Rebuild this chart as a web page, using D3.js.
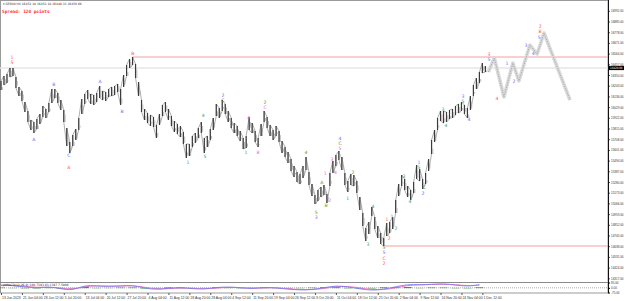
<!DOCTYPE html>
<html><head><meta charset="utf-8">
<script src="https://cdn.jsdelivr.net/npm/d3@7"></script>
<style>body{margin:0;background:#fff}svg{display:block;font-family:"DejaVu Sans",Arial,sans-serif}</style>
</head><body><svg id="c" width="625" height="301"></svg>
<script>
const highs = [16290,16340,16360,16420,16420,16330,16230,16190,16080,15990,
15900,15880,15910,15960,16040,16010,16070,16210,16210,16170,
16100,16000,15820,15680,15750,15810,15920,16110,16160,16200,
16160,16150,16170,16240,16190,16180,16210,16230,16240,16260,
16210,16350,16450,16510,16530,16460,16280,16100,16010,15970,
15950,15930,15850,15960,16050,16080,16010,15940,15890,15860,
15840,15780,15660,15660,15740,15770,15820,15880,15720,15740,
15810,15920,16060,16020,16100,16060,15990,15920,15870,15840,
15790,15720,15740,15930,15870,15790,15720,15860,15990,15930,
15850,15800,15840,15790,15690,15630,15580,15510,15440,15380,
15360,15440,15530,15380,15260,15150,15200,15230,15250,15160,
15370,15490,15550,15590,15530,15370,15290,15360,15350,15290,
15130,14970,14820,14880,15030,14930,14840,14770,14720,14870,
14880,14930,15100,15260,15350,15310,15240,15200,15280,15450,
15410,15310,15370,15510,15700,15800,15920,15990,15990,15980,
16000,16010,16040,16060,16080,16050,16020,16140,16250,16320,
16380,16470,16440];
const lows = [16200,16250,16270,16330,16340,16220,16140,16090,15980,15880,
15800,15770,15810,15860,15930,15920,15980,16070,16120,16070,
16000,15880,15640,15570,15640,15700,15800,15960,16060,16110,
16060,16050,16080,16120,16100,16090,16130,16140,16150,16180,
16050,16230,16340,16420,16450,16320,16140,15980,15900,15870,
15840,15830,15720,15850,15940,15980,15900,15840,15780,15760,
15730,15660,15520,15540,15630,15670,15720,15770,15570,15630,
15700,15800,15940,15920,15990,15960,15880,15820,15770,15740,
15690,15610,15620,15800,15770,15680,15630,15740,15880,15820,
15740,15700,15740,15680,15570,15530,15470,15390,15330,15280,
15260,15320,15400,15250,15140,15060,15090,15130,15150,15070,
15240,15370,15440,15500,15400,15250,15180,15250,15240,15170,
15000,14840,14690,14760,14940,14810,14720,14660,14640,14740,
14770,14810,14970,15140,15240,15200,15130,15100,15170,15310,
15290,15210,15260,15390,15560,15680,15800,15890,15870,15880,
15910,15920,15950,15970,15990,15960,15920,16000,16140,16210,
16270,16370,16380];
const currentPrice = 16420;
const levelB = 16530, levelBBar = 44;
const levelLow = 14640, levelLowBar = 128;

const projBars = [163,165,168.2,171.2,173.2,176.9,179.3,181.6,190.3];
const projPrices = [16380,16520,16130,16470,16290,16650,16560,16770,16100];

const priceTicks = [16992,16885,16778,16671,16564,16457,16350,16243,16136,16029,15922,15815,15708,15601,15494,15387,15280,15173,15066,14959,14852,14745,14638,14531,14424,14317];

const dateBars = [0,7,14,21,28,35,42,49,56,63,70,77,84,91,98,105,112,119,126,133,140,147,154,161];
const dateLabels = ["13 Jun 2023","21 Jun 04:00","28 Jun 12:00","5 Jul 20:00","13 Jul 04:00","20 Jul 12:00","27 Jul 20:00","4 Aug 04:00","11 Aug 12:00","18 Aug 20:00","28 Aug 04:00","4 Sep 12:00","11 Sep 20:00","19 Sep 04:00","26 Sep 12:00","3 Oct 20:00","11 Oct 04:00","18 Oct 12:00","25 Oct 20:00","2 Nov 04:00","9 Nov 12:00","16 Nov 20:00","24 Nov 04:00","1 Dec 12:00"];

const lblText  = ["1","5","A","B","C","A","A","B","B","1","4","5","2","C","1","A","B","2","C","4","5","3","1","A","B","2","3","4","4","C","5","1","2","3","4","5","5","C","2","1","2","1","2","3","4","1","5","C","2","3","4","3","5","4","3","5","4","1","2","3","4","2","B","5"];
const lblBar   = [3.7,3.7,11,17.7,22.7,22.7,33.1,40.5,44.1,62.5,67.6,68.2,74.2,74.2,81.9,82.9,86,88.3,88.3,102,105.4,105.4,108.4,107.3,108.7,109.9,110.7,111.9,113.4,113.4,113.4,116,117.7,122.7,124.4,128.1,128.1,128.1,128.1,129.1,129.8,130.8,132.1,134.8,136.8,139.8,139.8,141.5,141.1,147.8,148.8,154.5,154.5,156.5,163.2,163.2,165.9,169.2,171.6,175.6,178,180.3,180.3,180];
const lblPrice = [16525,16470,15700,16250,15545,15420,16280,15980,16560,15470,15940,15530,16145,16090,15570,15920,15570,16075,16020,15570,14975,14920,15360,15270,15040,15095,15500,15370,15715,15665,15615,15110,15370,14650,15030,14625,14570,14515,14460,14900,14710,14930,14810,15330,15080,15475,15420,15220,15165,16000,15840,16135,16080,15900,16555,16500,16110,16460,16280,16640,16560,16835,16780,16725];
const lblColor = ["r","r","b","b","b","r","b","b","r","b","g","g","b","g","g","p","p","g","p","g","g","b","p","g","g","p","p","p","b","g","p","g","g","g","g","g","b","r","r","r","r","g","g","g","g","b","g","g","b","g","g","b","g","b","r","b","r","b","b","b","b","r","r","b"];

const indBars = [0,4,8,12,16,20,24,28,32,36,40,44,48,52,56,60,64,68,72,76,80,84,88,92,96,100,104,108,112,116,120,124,128,132,136,140,144,148,152,156,160];
const indMain = [44,36,15,-7,22,-15,-44,44,29,22,29,44,-7,-29,-7,7,-15,-22,7,15,0,-15,7,0,-22,-36,-29,0,36,15,-15,-44,-22,15,58,44,58,65,44,22,51];
const indSignal = [40,40,25,5,10,0,-30,20,35,25,25,38,10,-20,-15,0,-8,-18,-5,10,5,-8,0,2,-12,-30,-32,-12,22,25,0,-30,-32,-2,40,50,52,60,52,32,40];
const indHist = [4,-4,-10,-12,12,-15,-14,24,-6,-3,4,6,-17,-9,8,7,-7,-4,12,5,-5,-7,7,-2,-10,-6,3,12,14,-10,-15,-14,10,17,18,-6,6,5,-8,-10,11];
const indTicks = [85, 0, -75];

const colors = {r:"#ff5050", b:"#6a6aff", g:"#45a045", p:"#e466e4"};

const svg = d3.select("#c");
const axisX = 608, indTop = 282, indBottom = 293;
const x = d3.scaleLinear().domain([0, 200]).range([1, 1 + 2.99*200]);
const y = d3.scaleLinear().domain([14300, 17070]).range([280, 3]);
const yi = d3.scaleLinear().domain([-75, 85]).range([indBottom - 0.5, indTop + 0.5]);
const yh = d3.scaleLinear().domain([-40, 40]).range([1.6, -1.6]);

svg.append("rect").attr("x",0.5).attr("y",0.5).attr("width",axisX-0.5).attr("height",indBottom-0.5)
  .attr("fill","none").attr("stroke","#9a9a9a").attr("stroke-width",1);
svg.append("line").attr("x1",0).attr("x2",axisX).attr("y1",indTop+0.5).attr("y2",indTop+0.5).attr("stroke","#8a8a8a");

svg.append("line").attr("x1",0).attr("x2",axisX).attr("y1",y(currentPrice)).attr("y2",y(currentPrice))
  .attr("stroke","#e6e6e6").attr("stroke-width",1.6);
svg.append("line").attr("x1",x(levelBBar)).attr("x2",axisX).attr("y1",y(levelB)).attr("y2",y(levelB))
  .attr("stroke","#f2a0a0").attr("stroke-width",1);
svg.append("line").attr("x1",x(levelLowBar)).attr("x2",axisX).attr("y1",y(levelLow)).attr("y2",y(levelLow))
  .attr("stroke","#f2a0a0").attr("stroke-width",1);

const zz = [];
highs.forEach((h,i)=>{
  if (i%2) { zz.push([x(i), y(h)]); zz.push([x(i), y(lows[i])]); }
  else { zz.push([x(i), y(lows[i])]); zz.push([x(i), y(h)]); }
});
svg.append("path").attr("d", d3.line()(zz)).attr("fill","none").attr("stroke","#8c8c8c").attr("stroke-width",0.7);
svg.append("g").selectAll("line").data(highs).join("line")
  .attr("x1",(d,i)=>x(i)).attr("x2",(d,i)=>x(i))
  .attr("y1",d=>y(d)).attr("y2",(d,i)=>y(lows[i]))
  .attr("stroke","#3c3c3c").attr("stroke-width",1.2);
svg.append("g").selectAll("line").data(highs).join("line")
  .attr("x1",(d,i)=>x(i)+1.3).attr("x2",(d,i)=>x(i)+1.3)
  .attr("y1",(d,i)=>y((d+lows[i])/2)+ (i%2? -1.5:1.5)).attr("y2",(d,i)=>y(lows[i]) - (i%3)*1.2)
  .attr("stroke","#a0a0a0").attr("stroke-width",0.7);

const proj = projBars.map((b,i)=>[x(b), y(projPrices[i])]);
svg.append("path").attr("d", d3.line()(proj)).attr("fill","none").attr("stroke","#dadada").attr("stroke-width",3.6).attr("stroke-linejoin","round");
svg.append("path").attr("d", d3.line()(proj)).attr("fill","none").attr("stroke","#a4a4a4").attr("stroke-width",0.9).attr("stroke-dasharray","1.2,1.2");

svg.append("g").selectAll("text").data(lblText).join("text")
  .attr("x",(d,i)=>x(lblBar[i])).attr("y",(d,i)=>y(lblPrice[i]))
  .attr("text-anchor","middle").attr("dominant-baseline","middle")
  .attr("font-size",4.6).attr("fill",(d,i)=>colors[lblColor[i]]).text(d=>d);

const ax = svg.append("g").attr("transform",`translate(${axisX},0)`)
  .call(d3.axisRight(y).tickValues(priceTicks).tickSize(2).tickFormat(d=>d.toFixed(2)));
ax.select(".domain").remove();
ax.selectAll("text").attr("font-size",3.2).attr("fill","#333").attr("x",3)
  .attr("textLength",12.5).attr("lengthAdjust","spacingAndGlyphs");
ax.selectAll("line").attr("stroke","#555");
svg.append("line").attr("x1",axisX+0.5).attr("x2",axisX+0.5).attr("y1",0).attr("y2",indBottom).attr("stroke","#111").attr("stroke-width",1);

svg.append("rect").attr("x",axisX+1).attr("y",y(currentPrice)-2.1).attr("width",15).attr("height",4.2).attr("fill","#000");
svg.append("text").attr("x",axisX+2).attr("y",y(currentPrice)).attr("dominant-baseline","middle")
  .attr("font-size",3.2).attr("fill","#fff").attr("textLength",12.5).attr("lengthAdjust","spacingAndGlyphs")
  .text(currentPrice.toFixed(2));

svg.append("line").attr("x1",0).attr("x2",axisX).attr("y1",yi(0)).attr("y2",yi(0)).attr("stroke","#777").attr("stroke-width",0.6).attr("stroke-dasharray","1,1");
const curve = d3.curveBasis;
svg.append("g").selectAll("rect").data(indHist).join("rect")
  .attr("x",(d,i)=>x(indBars[i])-4).attr("width",8)
  .attr("y",d=>yi(0)+Math.min(0,yh(d))).attr("height",d=>Math.abs(yh(d))+0.3)
  .attr("fill",(d)=>d>0?"#2f8f2f":"#7fc07f");
svg.append("path").attr("d", d3.line().curve(curve).x((d,i)=>x(indBars[i])).y(d=>yi(d))(indSignal))
  .attr("fill","none").attr("stroke","#f070c0").attr("stroke-width",0.9);
svg.append("path").attr("d", d3.line().curve(curve).x((d,i)=>x(indBars[i])).y(d=>yi(d))(indMain))
  .attr("fill","none").attr("stroke","#7a7af0").attr("stroke-width",0.9);
const iax = svg.append("g").attr("transform",`translate(${axisX},0)`)
  .call(d3.axisRight(yi).tickValues(indTicks).tickSize(2).tickFormat(d=>d.toFixed(2)));
iax.select(".domain").remove();
iax.selectAll("text").attr("font-size",3.0).attr("fill","#333").attr("x",3);
svg.append("text").attr("x",3).attr("y",286).attr("font-size",3.0).attr("fill","#333")
  .text("jdMACD(12,26,9) 100.7393 93.1397 7.5996");

const dx = svg.append("g").attr("transform",`translate(0,${indBottom})`)
  .call(d3.axisBottom(x).tickValues(dateBars).tickSize(2).tickFormat((d,i)=>dateLabels[i]));
dx.select(".domain").remove();
dx.selectAll("text").attr("font-size",3.4).attr("fill","#333").attr("text-anchor","start").attr("dx",0.5).attr("y",3.2);
dx.selectAll("line").attr("stroke","#555");

svg.append("text").attr("x",3).attr("y",5).attr("font-size",3.0).attr("fill","#333")
  .text("\u25BE GER40,H4  16452.18 16452.18 16449.33 16450.66");
svg.append("text").attr("x",2).attr("y",12.5).attr("font-size",4.4).attr("font-weight","bold")
  .attr("font-family","DejaVu Sans Mono, monospace").attr("fill","#ff3030").text("Spread: 120 points");
</script></body></html>
